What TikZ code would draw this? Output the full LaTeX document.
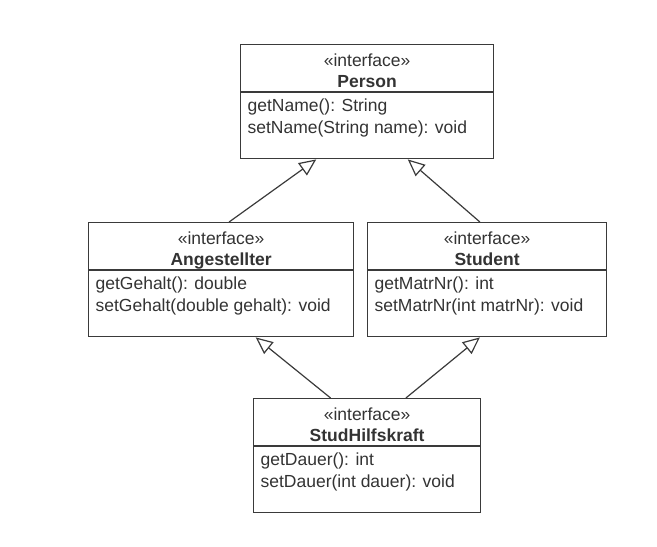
\documentclass[tikz,border=0pt]{standalone}
\usepackage{fontspec}
\setmainfont{Liberation Sans}
\usetikzlibrary{arrows.meta,calc}
\definecolor{umlline}{HTML}{3A3A3A}
\definecolor{umltext}{HTML}{333333}
\newcommand{\opsbox}[2]{\parbox[t][54pt][t]{#1}{#2}}
\tikzset{
  ifhead/.style={draw=umlline, line width=1.2pt, anchor=north west, inner sep=0pt,
    minimum height=47pt, align=center, text height=38pt, text depth=0pt, text=umltext,
    font=\fontsize{17.5}{20.5}\selectfont},
  ifops/.style={draw=umlline, line width=1.2pt, anchor=north west, inner xsep=7pt,
    inner ysep=6pt, text=umltext, font=\fontsize{17.5}{22}\selectfont},
  realizes/.style={draw=umlline, line width=1.2pt, -{Triangle[open,length=17pt,width=15pt]}}
}
\begin{document}
\begin{tikzpicture}[x=1pt,y=-1pt]
  \useasboundingbox (0,0) rectangle (657,547);
  % interfaces
  \node[ifhead, minimum width=253pt] (person) at (240,44) {«interface»\\\textbf{Person}};
  \node[ifops] (personops) at (person.south west)
    {\opsbox{239pt}{getName(): String\\setName(String name): void}};
  \node[ifhead, minimum width=265pt] (angest) at (88,222) {«interface»\\\textbf{Angestellter}};
  \node[ifops] (angestops) at (angest.south west)
    {\opsbox{251pt}{getGehalt(): double\\setGehalt(double gehalt): void}};
  \node[ifhead, minimum width=239pt] (student) at (367,222) {«interface»\\\textbf{Student}};
  \node[ifops] (studentops) at (student.south west)
    {\opsbox{225pt}{getMatrNr(): int\\setMatrNr(int matrNr): void}};
  \node[ifhead, minimum width=227pt] (hilfs) at (253,398) {«interface»\\\textbf{StudHilfskraft}};
  \node[ifops] (hilfsops) at (hilfs.south west)
    {\opsbox{213pt}{getDauer(): int\\setDauer(int dauer): void}};
  % generalisations
  \begin{scope}[realizes]
    \draw ($(angest.north west)!0.53!(angest.north east)$) to ($(personops.south west)!0.30!(personops.south east)$);
    \draw ($(student.north west)!0.47!(student.north east)$) to ($(personops.south west)!0.66!(personops.south east)$);
    \draw ($(hilfs.north west)!0.34!(hilfs.north east)$) to ($(angestops.south west)!0.63!(angestops.south east)$);
    \draw ($(hilfs.north west)!0.67!(hilfs.north east)$) to ($(studentops.south west)!0.47!(studentops.south east)$);
  \end{scope}
\end{tikzpicture}
\end{document}
